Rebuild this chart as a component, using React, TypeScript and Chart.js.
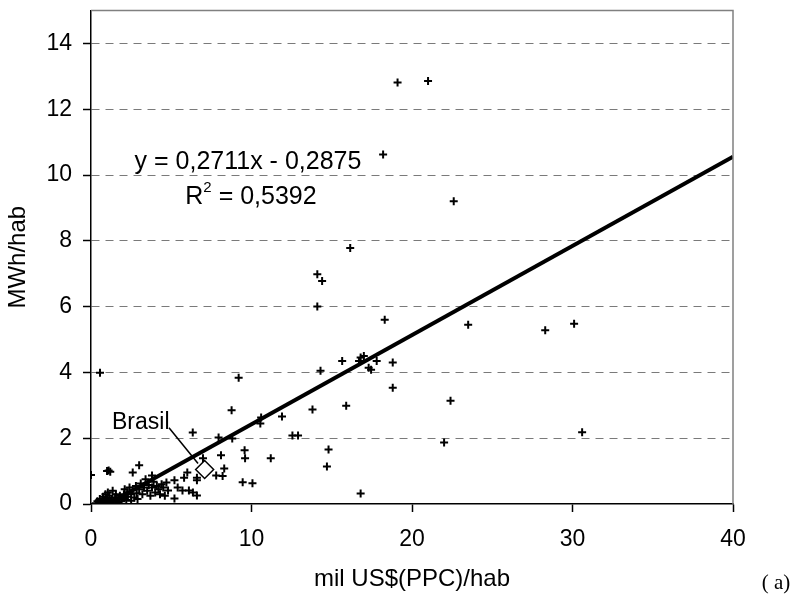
import React, { useEffect, useRef } from 'react';
import { Chart, registerables } from 'chart.js';

Chart.register(...registerables);

// ---------- data ----------
const X_TICKS = [0, 10, 20, 30, 40];
const Y_TICKS = [0, 2, 4, 6, 8, 10, 12, 14];

// GDP per capita (mil US$ PPC/hab)
const countryX = [
  21.0, 19.1, 18.2, 22.6, 16.15, 14.1, 14.4, 14.1, 18.3, 23.5, 28.3, 30.1,
  15.65, 16.8, 17.0, 16.7, 17.3, 17.45, 17.8, 18.8, 14.3, 18.8, 13.8, 15.9,
  22.4, 10.6, 10.55, 11.9, 12.55, 12.9, 22.0, 30.6, 9.57, 9.6, 11.2, 14.8,
  14.7, 9.45, 10.06, 16.8, 9.2, 8.76, 6.34, 7.95, 8.8, 8.1, 6.98, 8.3,
  8.2, 7.8, 0.56, 0.0, 1.0, 1.1, 1.2, 2.6, 3.0, 3.8, 6.0, 6.6, 6.6, 5.8,
  5.2, 5.4, 5.7, 6.1, 6.35, 6.6, 5.2, 4.7, 4.8,
  0.3, 0.4, 0.5, 0.55, 0.6, 0.7, 0.75, 0.8, 0.85, 0.9, 0.95, 1.0, 1.05, 1.1,
  1.15, 1.2, 1.3, 1.35, 1.4, 1.5, 1.55, 1.6, 1.7, 1.75, 1.8, 1.9, 2.0, 2.05,
  2.1, 2.2, 2.25, 2.3, 2.4, 2.5, 2.5, 2.6, 2.7, 2.8, 2.85, 2.9, 3.0, 3.1,
  3.2, 3.3, 3.4, 3.5, 3.6, 3.7, 3.8, 3.9, 4.0, 4.1, 4.2, 4.3, 4.4, 4.5, 4.6,
];
// Electricity consumption (MWh/hab)
const countryY = [
  12.86, 12.81, 10.62, 9.2, 7.78, 6.98, 6.78, 6.0, 5.6, 5.45, 5.28, 5.48,
  4.35, 4.45, 4.5, 4.35, 4.14, 4.08, 4.35, 4.3, 4.05, 3.53, 2.87, 2.99,
  3.14, 2.63, 2.45, 2.66, 2.08, 2.08, 1.87, 2.18, 1.63, 1.39, 1.39, 1.66,
  1.14, 0.66, 0.63, 0.32, 3.84, 2.85, 2.17, 2.02, 1.99, 1.48, 1.39, 1.08,
  0.85, 0.87, 3.99, 0.88, 1.0, 1.02, 0.98, 0.96, 1.18, 0.87, 0.96, 0.72, 0.8, 0.8,
  0.72, 0.5, 0.41, 0.41, 0.35, 0.26, 0.17, 0.65, 0.41,
  0.02, 0.08, 0.03, 0.15, 0.05, 0.1, 0.22, 0.02, 0.12, 0.3, 0.06, 0.18, 0.35, 0.1,
  0.25, 0.04, 0.14, 0.4, 0.07, 0.2, 0.3, 0.1, 0.05, 0.15, 0.25, 0.08, 0.18, 0.3,
  0.45, 0.12, 0.35, 0.22, 0.5, 0.3, 0.1, 0.42, 0.2, 0.55, 0.33, 0.15, 0.45, 0.62,
  0.3, 0.5, 0.75, 0.4, 0.58, 0.25, 0.5, 0.68, 0.35, 0.55, 0.45, 0.3, 0.6, 0.5, 0.25,
];

const brasilX = [7.08];
const brasilY = [1.05];
const BRASIL_LABEL = 'Brasil';

const TREND_SLOPE = 0.2711;
const TREND_INTERCEPT = -0.2875;
const trendX = [1.06, 40];
const EQUATION_TEXT = 'y = 0,2711x - 0,2875';
const R2_VALUE_TEXT = ' = 0,5392';

const X_TITLE = 'mil US$(PPC)/hab';
const Y_TITLE = 'MWh/hab';
const PANEL_LABEL = '( a)';

const SANS = '"Liberation Sans", Arial, sans-serif';
const SERIF = '"Liberation Serif", "Times New Roman", serif';

const annotations = {
  id: 'annotations',
  afterDatasetsDraw(chart: any) {
    const { ctx, chartArea, scales } = chart;
    const xs = scales.x;
    const ys = scales.y;
    ctx.save();
    // grey top & right frame
    ctx.strokeStyle = '#808080';
    ctx.lineWidth = 1.5;
    ctx.beginPath();
    ctx.moveTo(chartArea.left, chartArea.top);
    ctx.lineTo(chartArea.right, chartArea.top);
    ctx.lineTo(chartArea.right, chartArea.bottom);
    ctx.stroke();

    // equation
    ctx.fillStyle = '#000';
    const bigFont = `25px ${SANS}`;
    const supFont = `15px ${SANS}`;
    ctx.font = bigFont;
    ctx.textAlign = 'center';
    ctx.textBaseline = 'middle';
    const ex = xs.getPixelForValue(9.78);
    const ey = ys.getPixelForValue(10.39);
    ctx.fillText(EQUATION_TEXT, ex, ey);
    // R^2 line
    const wR = ctx.measureText('R').width;
    const wRest = ctx.measureText(R2_VALUE_TEXT).width;
    ctx.font = supFont;
    const wSup = ctx.measureText('2').width;
    const total = wR + wSup + wRest;
    const cx2 = ex + 3;
    const y2 = ey + 35;
    let sx = cx2 - total / 2;
    ctx.textAlign = 'left';
    ctx.font = bigFont;
    ctx.fillText('R', sx, y2);
    sx += wR;
    ctx.font = supFont;
    ctx.fillText('2', sx, y2 - 9);
    sx += wSup;
    ctx.font = bigFont;
    ctx.fillText(R2_VALUE_TEXT, sx, y2);

    // Brasil label + leader
    ctx.font = `23px ${SANS}`;
    ctx.textAlign = 'left';
    ctx.fillText(BRASIL_LABEL, xs.getPixelForValue(1.31), ys.getPixelForValue(2.47));
    ctx.strokeStyle = '#000';
    ctx.lineWidth = 1.5;
    ctx.beginPath();
    ctx.moveTo(xs.getPixelForValue(4.86), ys.getPixelForValue(2.32));
    ctx.lineTo(xs.getPixelForValue(6.67), ys.getPixelForValue(1.23));
    ctx.stroke();

    // panel label
    ctx.font = `21px ${SERIF}`;
    ctx.textAlign = 'center';
    ctx.fillText(PANEL_LABEL, 776, 583);
    ctx.restore();
  },
};

export default function App() {
  const canvasRef = useRef<HTMLCanvasElement | null>(null);

  useEffect(() => {
    if (!canvasRef.current) return;
    const scatterData = countryX.map((x, i) => ({ x, y: countryY[i] }));
    const brasilData = brasilX.map((x, i) => ({ x, y: brasilY[i] }));
    const trendData = trendX.map((x) => ({ x, y: TREND_SLOPE * x + TREND_INTERCEPT }));

    const chart = new Chart(canvasRef.current, {
      type: 'scatter',
      data: {
        datasets: [
          {
            label: 'Brasil',
            data: brasilData,
            pointStyle: 'rectRot',
            pointRadius: 9,
            pointBackgroundColor: '#ffffff',
            pointBorderColor: '#000000',
            pointBorderWidth: 1.5,
            order: 0,
          },
          {
            type: 'line',
            label: 'Tendência',
            data: trendData,
            borderColor: '#000000',
            borderWidth: 4,
            pointRadius: 0,
            fill: false,
            clip: 0,
            order: 1,
          } as any,
          {
            label: 'Países',
            data: scatterData,
            pointStyle: 'cross',
            pointRadius: 4,
            pointBorderColor: '#000000',
            pointBorderWidth: 2,
            order: 2,
          },
        ],
      },
      options: {
        animation: false,
        responsive: false,
        devicePixelRatio: 1,
        layout: { padding: { top: 8, right: 71, left: 0, bottom: 0 } },
        plugins: {
          legend: { display: false },
          tooltip: { enabled: false },
        },
        scales: {
          x: {
            type: 'linear',
            min: 0,
            max: 40,
            afterFit: (s: any) => {
              s.height = 96;
              s.paddingLeft = 0;
              s.paddingRight = 0;
            },
            afterBuildTicks: (s: any) => { s.ticks = X_TICKS.map((v) => ({ value: v })); },
            ticks: {
              autoSkip: false,
              maxRotation: 0,
              padding: 14,
              color: '#000',
              font: { family: SANS, size: 23 },
            },
            grid: {
              drawOnChartArea: false,
              drawTicks: true,
              tickLength: 8,
              tickColor: '#000',
              tickWidth: 1.5,
            },
            border: { color: '#000', width: 1.5 },
            title: {
              display: true,
              text: X_TITLE,
              color: '#000',
              font: { family: SANS, size: 24 },
              padding: { top: 0, bottom: 6 },
            },
          },
          y: {
            type: 'linear',
            min: 0,
            max: 15,
            afterFit: (s: any) => {
              s.width = 91;
              s.paddingTop = 0;
              s.paddingBottom = 0;
            },
            afterBuildTicks: (s: any) => { s.ticks = Y_TICKS.map((v) => ({ value: v })); },
            ticks: {
              autoSkip: false,
              padding: 11,
              color: '#000',
              font: { family: SANS, size: 23 },
            },
            grid: {
              drawOnChartArea: true,
              color: (c: any) => (c.tick && c.tick.value === 0 ? 'rgba(0,0,0,0)' : '#7a7a7a'),
              lineWidth: 1,
              drawTicks: true,
              tickLength: 8,
              tickColor: '#000',
              tickWidth: 1.5,
            },
            border: { color: '#000', width: 1.5, dash: [8, 6] },
            title: {
              display: true,
              text: Y_TITLE,
              color: '#000',
              font: { family: SANS, size: 24 },
              padding: { top: 4, bottom: 0 },
            },
          },
        },
      },
      plugins: [annotations],
    });
    return () => chart.destroy();
  }, []);

  return (
    <div style={{ position: 'absolute', left: 0, top: 0, width: 804, height: 600, background: '#fff' }}>
      <canvas ref={canvasRef} width={804} height={600} />
    </div>
  );
}
